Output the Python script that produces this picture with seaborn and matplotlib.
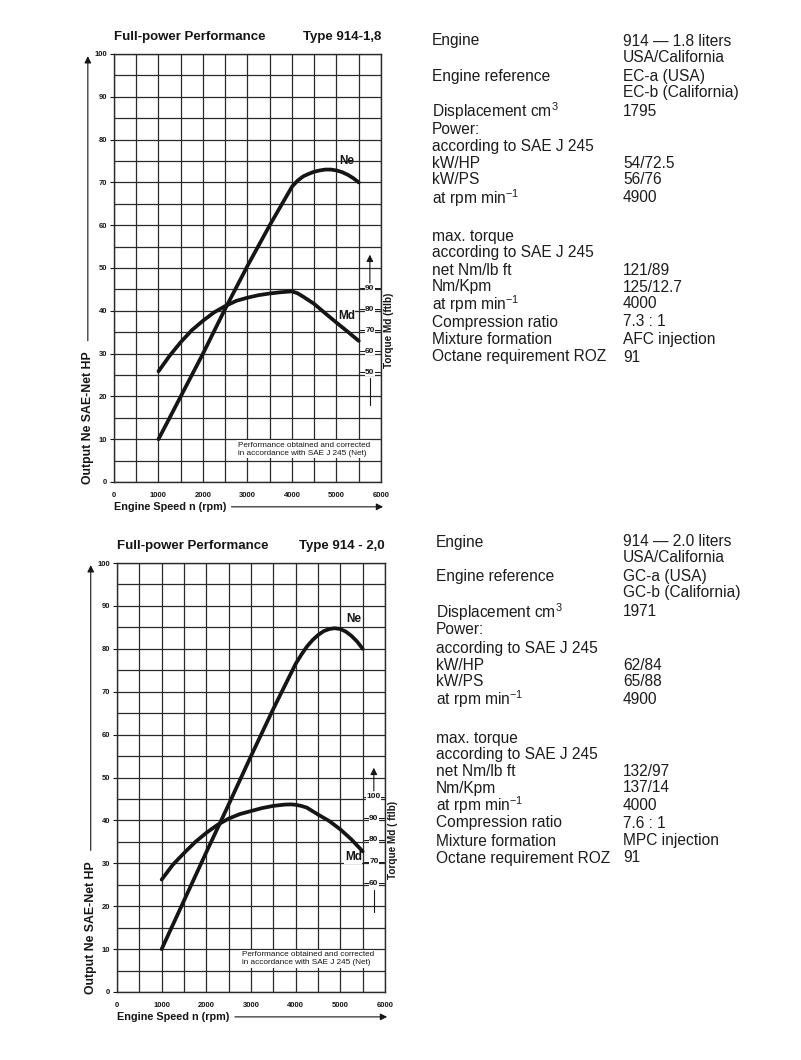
import numpy as np
import matplotlib
matplotlib.use("Agg")
import matplotlib.pyplot as plt
import seaborn as sns

sns.set_style("white")
plt.rcParams['font.family'] = ['Liberation Sans', 'DejaVu Sans']
plt.rcParams['mathtext.fontset'] = 'custom'
plt.rcParams['mathtext.rm'] = 'Liberation Sans'
plt.rcParams['mathtext.it'] = 'Liberation Sans'
plt.rcParams['mathtext.bf'] = 'Liberation Sans:bold'

# ---- data ----
# 914 - 1,8
rpm_ne_18 = [1000, 1500, 2000, 2500, 3000, 3500, 4000, 4125, 4250, 4375, 4500, 4625, 4750,
             4875, 5000, 5125, 5250, 5375, 5500]
ne_18 = [10, 20.0, 30.0, 40.5, 50.5, 60.0, 69.0, 70.4, 71.4, 72.0, 72.5, 72.8, 73.0,
         73.0, 72.8, 72.4, 71.8, 71.0, 70.0]
rpm_md_18 = [1000, 1250, 1500, 1750, 2000, 2250, 2500, 2750, 3000, 3250, 3500, 3750, 4000,
             4125, 4250, 4500, 4750, 5000, 5250, 5500]
md_18 = [50.4, 57.8, 64.3, 70.0, 74.5, 78.5, 81.5, 84.0, 85.5, 86.7, 87.5, 88.1, 88.5,
         87.6, 86.0, 82.5, 78.0, 73.6, 69.3, 64.9]          # ft lb

# 914 - 2,0
rpm_ne_20 = [1000, 1500, 2000, 2500, 3000, 3500, 4000, 4125, 4250, 4375, 4500, 4625, 4750,
             4875, 5000, 5125, 5250, 5375, 5500]
ne_20 = [10, 21.3, 32.6, 43.7, 55.0, 66.0, 76.5, 78.6, 80.5, 82.0, 83.2, 84.1, 84.6,
         84.8, 84.6, 84.0, 83.0, 81.7, 80.0]
rpm_md_20 = [1000, 1250, 1500, 1750, 2000, 2250, 2500, 2750, 3000, 3250, 3500, 3750, 3900,
             4000, 4125, 4250, 4500, 4750, 5000, 5250, 5500]
md_20 = [61.6, 68.5, 73.9, 79.0, 83.3, 87.0, 89.9, 92.0, 93.4, 94.8, 95.8, 96.4, 96.5,
         96.3, 95.8, 95.0, 91.8, 88.8, 84.9, 80.2, 74.7]          # ft lb

x_ticks = [0, 1000, 2000, 3000, 4000, 5000, 6000]
y_ticks = [0, 10, 20, 30, 40, 50, 60, 70, 80, 90, 100]
torque_ticks_18 = [50, 60, 70, 80, 90]
torque_ticks_20 = [60, 70, 80, 90, 100]

# ---- spec tables ----
spec_labels = ["Engine", "", "Engine reference", "", "Displacement cm$^3$", "Power:",
               "according to SAE J 245", "kW/HP", "kW/PS", "at rpm min$^{-1}$",
               "max. torque", "according to SAE J 245", "net Nm/lb ft", "Nm/Kpm",
               "at rpm min$^{-1}$", "Compression ratio", "Mixture formation",
               "Octane requirement ROZ"]
spec_18 = ["914 \u2014 1.8 liters", "USA/California", "EC-a (USA)", "EC-b (California)",
           "1795", "", "", "54/72.5", "56/76", "4900", "", "", "121/89", "125/12.7",
           "4000", "7.3 : 1", "AFC injection", "91"]
spec_20 = ["914 \u2014 2.0 liters", "USA/California", "GC-a (USA)", "GC-b (California)",
           "1971", "", "", "62/84", "65/88", "4900", "", "", "132/97", "137/14",
           "4000", "7.6 : 1", "MPC injection", "91"]

W, H = 801, 1060
fig = plt.figure(figsize=(W / 100, H / 100), dpi=100)
INK = '#151515'


def draw_chart(rect, title_type, rpm_ne, ne, rpm_md, md, t_lim, t_ticks,
               t_low, t_high, ne_pos, md_pos, torque_label):
    left, top, right, bottom = rect
    ax = fig.add_axes([left / W, 1 - bottom / H, (right - left) / W, (bottom - top) / H])
    ax.set_xlim(0, 6000)
    ax.set_ylim(0, 100)
    ax.set_xticks(x_ticks)
    ax.set_xticks(np.arange(0, 6001, 500), minor=True)
    ax.set_yticks(y_ticks)
    ax.set_yticks(np.arange(0, 101, 5), minor=True)
    ax.grid(which='both', color='#2a2a2a', lw=0.9)
    ax.tick_params(axis='y', which='major', length=3, width=0.8, pad=2, labelsize=5.5,
                   colors=INK, left=True)
    ax.tick_params(axis='x', which='major', length=0, pad=7, labelsize=5.5, colors=INK)
    ax.tick_params(which='minor', length=0)
    for lab in ax.get_xticklabels() + ax.get_yticklabels():
        lab.set_fontweight('bold')
    for s in ax.spines.values():
        s.set_color('#2a2a2a')
        s.set_linewidth(1.0)

    sns.lineplot(x=rpm_ne, y=ne, ax=ax, color=INK, lw=2.7, sort=False)

    ax2 = ax.twinx()
    ax2.set_ylim(*t_lim)
    ax2.axis('off')
    sns.lineplot(x=rpm_md, y=md, ax=ax2, color=INK, lw=2.7, sort=False)

    # torque scale drawn inside the grid
    tx = 5750
    for t in t_ticks:
        ax2.plot([tx - 220, tx + 220], [t, t], color=INK, lw=0.7)
        ax2.text(tx, t, str(t), ha='center', va='center', fontsize=6, color=INK,
                 fontweight='bold',
                 bbox=dict(facecolor='white', edgecolor='none', pad=0.3))
    ax2.plot([tx, tx], t_low, color=INK, lw=0.8)
    ax2.annotate('', xy=(tx, t_high[1]), xytext=(tx, t_high[0]),
                 arrowprops=dict(arrowstyle='-|>', color=INK, lw=0.8,
                                 mutation_scale=10, shrinkA=0, shrinkB=0))

    ax.text(ne_pos[0], ne_pos[1], 'Ne', fontsize=8.5, fontweight='bold', ha='center',
            va='center', color=INK)
    ax.text(md_pos[0], md_pos[1], 'Md', fontsize=8.5, fontweight='bold', ha='center',
            va='center', color=INK,
            bbox=dict(facecolor='white', edgecolor='none', pad=0.5))
    ax.text(2790, 7.7, 'Performance obtained and corrected\nin accordance with SAE J 245 (Net)',
            fontsize=5.9, ha='left', va='center', color=INK, linespacing=1.2,
            bbox=dict(facecolor='white', edgecolor='none', pad=0.8))

    # titles
    ax.text(0.0, 1.025, 'Full-power Performance', transform=ax.transAxes, fontsize=9.5,
            fontweight='bold', ha='left', va='bottom', color=INK)
    ax.text(1.0, 1.025, title_type, transform=ax.transAxes, fontsize=9.5,
            fontweight='bold', ha='right', va='bottom', color=INK)

    # axis labels with arrows
    ax.text(-0.098, -0.005, 'Output Ne SAE-Net HP', transform=ax.transAxes, rotation=90,
            fontsize=8.8, fontweight='bold', ha='center', va='bottom', color=INK)
    ax.annotate('', xy=(-0.098, 0.995), xytext=(-0.098, 0.33), xycoords='axes fraction',
                arrowprops=dict(arrowstyle='-|>', color=INK, lw=0.8, mutation_scale=10,
                                shrinkA=0, shrinkB=0))
    ax.text(0.0, -0.058, 'Engine Speed n (rpm)', transform=ax.transAxes, fontsize=7.8,
            fontweight='bold', ha='left', va='center', color=INK)
    ax.annotate('', xy=(1.008, -0.058), xytext=(0.44, -0.058), xycoords='axes fraction',
                arrowprops=dict(arrowstyle='-|>', color=INK, lw=0.8, mutation_scale=10,
                                shrinkA=0, shrinkB=0))
    ax.text(1.03, 0.355, torque_label, transform=ax.transAxes, rotation=90, fontsize=7.2,
            fontweight='bold', ha='center', va='center', color=INK)
    return ax


draw_chart((114, 54, 381, 482), 'Type 914-1,8', rpm_ne_18, ne_18, rpm_md_18, md_18,
           (-2.4, 201.7), torque_ticks_18, (34.5, 47.0), (92.5, 106.0),
           (5220, 75.0), (5220, 38.8), 'Torque Md (ftlb)')
draw_chart((117, 563, 385, 992), 'Type 914 - 2,0', rpm_ne_20, ne_20, rpm_md_20, md_20,
           (9.45, 208.5), torque_ticks_20, (46.8, 56.8), (102.8, 113.5),
           (5290, 87.0), (5290, 31.5), 'Torque Md ( ftlb)')

# spec text blocks to the right
row_y = [41, 57, 76, 92, 111, 129, 147, 164, 180, 198, 237, 253, 270, 287, 304, 322, 340, 357]
for block, dy, lx in [(spec_18, 0, 432), (spec_20, 501, 436)]:
    for lab, val, y in zip(spec_labels, block, row_y):
        if lab:
            fig.text(lx / W, 1 - (y + dy) / H, lab, fontsize=11.2, color='#1c1c1c',
                     ha='left', va='center')
        if val:
            fig.text(623 / W, 1 - (y + dy) / H, val, fontsize=11.2, color='#1c1c1c',
                     ha='left', va='center')

fig.savefig('out.png', dpi=100)
